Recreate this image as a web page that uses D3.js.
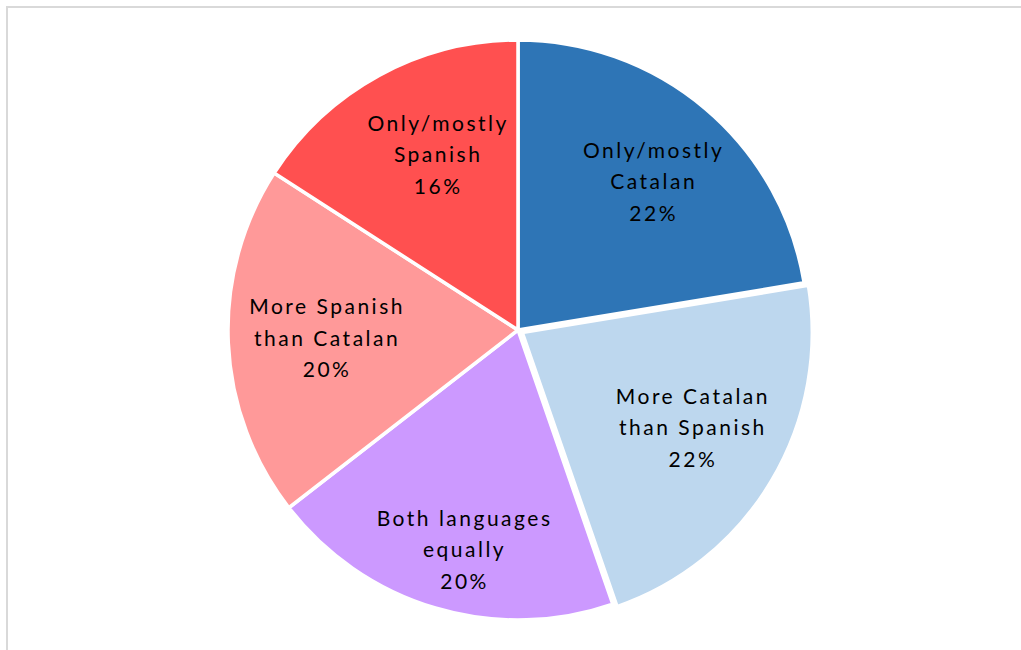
<!DOCTYPE html>
<html><head><meta charset="utf-8">
<script src="https://cdn.jsdelivr.net/npm/d3@7"></script>
<style>
body{margin:0;background:#fff;}
svg{display:block;}
text{font-family:"Lato","Open Sans",sans-serif;}
</style></head>
<body>
<svg id="chart" width="1021" height="650"></svg>
<script>
const categories = [
  ["Only/mostly", "Catalan"],
  ["More Catalan", "than Spanish"],
  ["Both languages", "equally"],
  ["More Spanish", "than Catalan"],
  ["Only/mostly", "Spanish"]
];
const values = [22.4, 22.3, 19.8, 19.6, 15.9];
const colors = ["#2E75B6", "#BDD7EE", "#CC99FF", "#FF9999", "#FF5050"];

const svg = d3.select("#chart");
svg.append("rect").attr("x", 7).attr("y", 7).attr("width", 1100).attr("height", 700)
  .attr("fill", "#fff").attr("stroke", "#d9d9d9").attr("stroke-width", 2);

const cx = 518, cy = 330, R = 290;
const explode = [0, 5, 0, 0, 0];
const labelR = [0.69, 0.68, 0.77, 0.67, 0.67];
const nudge = [[5, 5], [0, -5], [9, 6], [2, 0], [12, -4]];

const pie = d3.pie().sort(null).value(d => d)(values);
const arc = d3.arc().innerRadius(0).outerRadius(R);
const g = svg.append("g").attr("transform", `translate(${cx},${cy})`);

pie.forEach((p, i) => {
  const mid = (p.startAngle + p.endAngle) / 2;
  const ox = Math.sin(mid) * explode[i], oy = -Math.cos(mid) * explode[i];
  const sg = g.append("g").attr("transform", `translate(${ox},${oy})`);
  sg.append("path").attr("d", arc(p)).attr("fill", colors[i])
    .attr("stroke", "#fff").attr("stroke-width", 3.5).attr("stroke-linejoin", "miter");
  const lr = R * labelR[i];
  const lx = Math.sin(mid) * lr + nudge[i][0], ly = -Math.cos(mid) * lr + nudge[i][1];
  const lines = categories[i].concat([d3.format(".0f")(p.data) + "%"]);
  const t = sg.append("text").attr("text-anchor", "middle")
    .attr("font-size", 21).attr("fill", "#000").attr("letter-spacing", 2.5);
  lines.forEach((ln, j) => {
    t.append("tspan").attr("x", lx + 1.2).attr("y", ly + (j - 1) * 31.5 + 7).text(ln);
  });
});
</script>
</body></html>
